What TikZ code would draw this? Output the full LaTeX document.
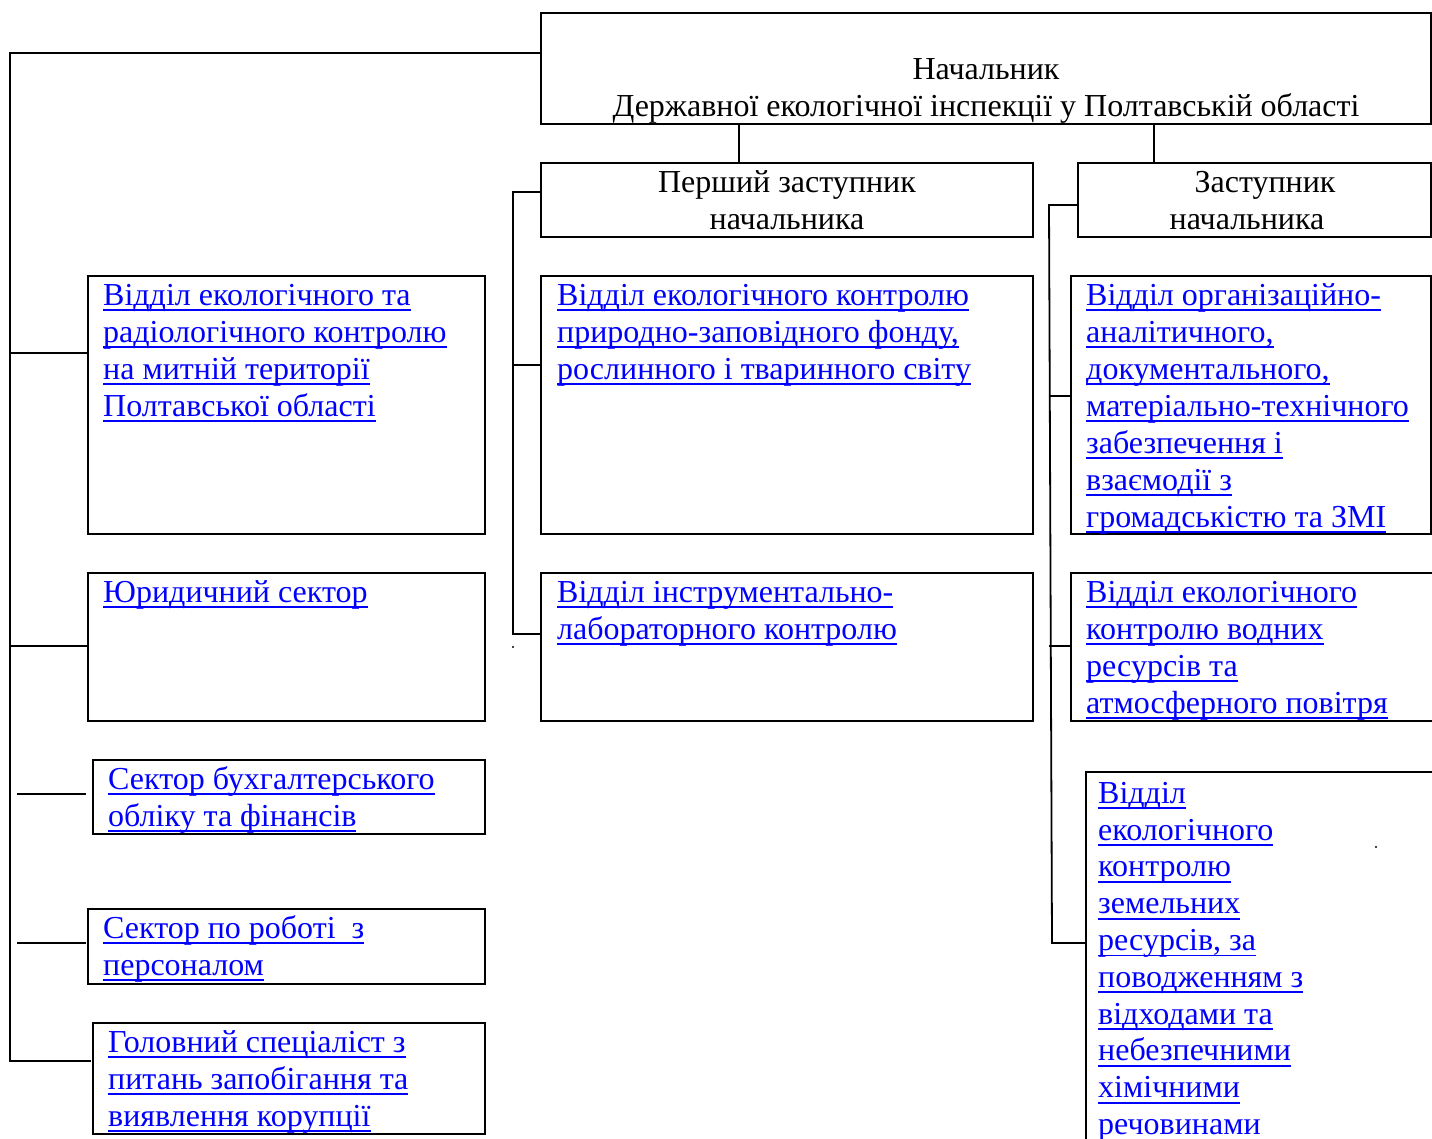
\documentclass[tikz,border=0pt]{standalone}
\usepackage{fontspec}
\setmainfont{Liberation Serif}
\usetikzlibrary{calc}
\tikzset{
  box/.style={draw, line width=2.2pt, rectangle, inner sep=0pt, outer sep=0pt, anchor=north west},
  conn/.style={line width=1.8pt},
  unit/.style={anchor=north west, inner sep=0pt, align=left, text=blue, font=\fontsize{32}{37}\selectfont},
  head/.style={anchor=north, inner sep=0pt, align=center, font=\fontsize{32}{37}\selectfont},
}
\newsavebox\ulbox
\newcommand\U[1]{\sbox\ulbox{#1}\rlap{\rule[-6pt]{\wd\ulbox}{1.8pt}}\usebox\ulbox}
\newcommand\fst{\rule{0pt}{29pt}}
\begin{document}
\begin{tikzpicture}[x=1pt,y=-1pt]
\useasboundingbox (0,0) rectangle (1432,1139);
% boxes
\node[box, minimum width=890pt, minimum height=111pt] (top) at (541,13) {};
\node[box, minimum width=492pt, minimum height=74pt] (d1) at (541,163) {};
\node[box, minimum width=353pt, minimum height=74pt] (d2) at (1078,163) {};
\node[box, minimum width=397pt, minimum height=258pt] (L1) at (88,276) {};
\node[box, minimum width=397pt, minimum height=148pt] (L2) at (88,573) {};
\node[box, minimum width=392pt, minimum height=74pt] (L3) at (93,760) {};
\node[box, minimum width=397pt, minimum height=75pt] (L4) at (88,909) {};
\node[box, minimum width=392pt, minimum height=111pt] (L5) at (93,1023) {};
\node[box, minimum width=492pt, minimum height=258pt] (M1) at (541,276) {};
\node[box, minimum width=492pt, minimum height=148pt] (M2) at (541,573) {};
\node[box, minimum width=360pt, minimum height=258pt] (R1) at (1071,276) {};
\node[box, minimum width=362pt, minimum height=148pt] (R2) at (1071,573) {};
\node[box, minimum width=400pt, minimum height=420pt] (R3) at (1086,772) {};
% header texts
\node[head] (ttop) at (986,13) {\rule{0pt}{66pt}Начальник\\Державної екологічної інспекції у Полтавській області};
\node[head] (td1) at (787,163) {\fst Перший заступник\\начальника};
\node[head] (td2) at (1256,163) {\fst\hspace*{18pt}Заступник\\начальника\hspace*{18pt}};
% unit texts
\node[unit] (tL1) at (103,276) {\fst\U{Відділ екологічного та}\\\U{радіологічного контролю}\\\U{на митній території}\\\U{Полтавської області}};
\node[unit] (tL2) at (103,573) {\fst\U{Юридичний сектор}};
\node[unit] (tL3) at (108,760) {\fst\U{Сектор бухгалтерського}\\\U{обліку та фінансів}};
\node[unit] (tL4) at (103,909) {\fst\U{Сектор по роботі\ \ з}\\\U{персоналом}};
\node[unit] (tL5) at (108,1023) {\fst\U{Головний спеціаліст з}\\\U{питань запобігання та}\\\U{виявлення корупції}};
\node[unit] (tM1) at (557,276) {\fst\U{Відділ екологічного контролю}\\\U{природно-заповідного фонду,}\\\U{рослинного і тваринного світу}};
\node[unit] (tM2) at (557,573) {\fst\U{Відділ інструментально-}\\\U{лабораторного контролю}};
\node[unit] (tR1) at (1086,276) {\fst\U{Відділ організаційно-}\\\U{аналітичного,}\\\U{документального,}\\\U{матеріально-технічного}\\\U{забезпечення і}\\\U{взаємодії з}\\\U{громадськістю та ЗМІ}};
\node[unit] (tR2) at (1086,573) {\fst\U{Відділ екологічного}\\\U{контролю водних}\\\U{ресурсів та}\\\U{атмосферного повітря}};
\node[unit, font=\fontsize{32}{36.8}\selectfont] (tR3) at (1098,772) {\rule{0pt}{31pt}\U{Відділ}\\\U{екологічного}\\\U{контролю}\\\U{земельних}\\\U{ресурсів, за}\\\U{поводженням з}\\\U{відходами та}\\\U{небезпечними}\\\U{хімічними}\\\U{речовинами}};
% trunk coordinates
\coordinate (tl) at (10,53);
\coordinate (bl) at (10,1061);
\coordinate (mt) at (513,192);
\coordinate (mb) at (513,634);
\coordinate (rt) at (1049,205);
\coordinate (rb) at (1052,943);
% connectors from the head
\draw[conn] (top.south -| 739,0) -- (d1.north -| 739,0);
\draw[conn] (top.south -| 1154,0) -- (d2.north -| 1154,0);
% left trunk
\draw[conn] (top.west |- tl) -- (tl) -- (bl) -- (91,1061);
\draw[conn] (tl |- 0,353) -- (L1.west |- 0,353);
\draw[conn] (tl |- 0,646) -- (L2.west |- 0,646);
\draw[conn] (17,794) -- (86,794);
\draw[conn] (17,943) -- (86,943);
% middle trunk
\draw[conn] (d1.west |- mt) -- (mt) -- (mb) -- (M2.west |- mb);
\draw[conn] (513,365) -- (M1.west |- 0,365);
% right trunk
\draw[conn] (d2.west |- rt) -- (rt) -- (rb) -- (R3.west |- rb);
\draw[conn] (1048.5,396) -- (R1.west |- 0,396);
\draw[conn] (1049.2,646) -- (R2.west |- 0,646);
% stray dots
\fill (513,647) circle (1.2pt);
\fill (1376,847) circle (1.2pt);
\end{tikzpicture}
\end{document}
